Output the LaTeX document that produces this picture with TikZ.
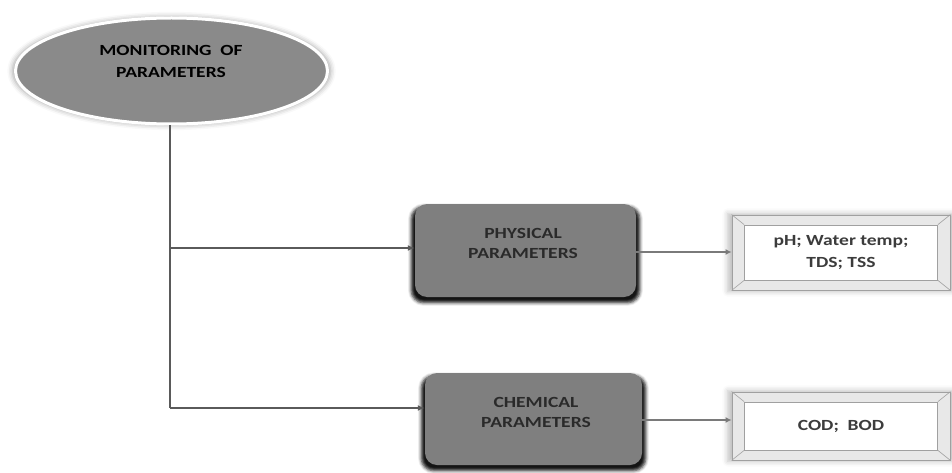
\documentclass[tikz,border=0pt]{standalone}
\usepackage{fontspec}
\setmainfont{Carlito}
\newfontfamily\widebf[FakeStretch=1.26]{Carlito Bold}
\usetikzlibrary{shapes.geometric,arrows.meta,shadows.blur}
\definecolor{ellgray}{HTML}{8A8A8A}
\definecolor{boxgray}{HTML}{7F7F7F}
\definecolor{linegray}{HTML}{5A5A5A}
\definecolor{arrgray}{HTML}{7A7A7A}
\definecolor{framegray}{HTML}{E8E8E8}
\definecolor{frameline}{HTML}{A0A0A0}
\definecolor{txtdark}{HTML}{2A2A2A}
\definecolor{txtres}{HTML}{3C3C3C}
\tikzset{
  mainell/.style={ellipse, fill=ellgray, draw=white, line width=3pt,
    minimum width=312pt, minimum height=106pt, inner sep=0pt,
    blur shadow={shadow xshift=0pt, shadow yshift=0pt, shadow scale=1.02,
      shadow blur radius=5pt, shadow opacity=35}},
  elltext/.style={align=center, text=black, inner sep=0pt,
    font=\widebf\fontsize{15.5}{22}\selectfont},
  parambox/.style={rectangle, rounded corners=12pt, fill=boxgray,
    inner sep=0pt,
    blur shadow={shadow xshift=0pt, shadow yshift=-4pt, shadow scale=1.035,
      shadow blur radius=3pt, shadow opacity=92}},
  paramtext/.style={align=center, text=txtdark, inner sep=0pt,
    font=\widebf\fontsize{15.5}{20}\selectfont},
  resouter/.style={rectangle, fill=framegray, draw=frameline, line width=0.8pt,
    inner sep=0pt, minimum width=218pt,
    blur shadow={shadow xshift=0pt, shadow yshift=0pt, shadow scale=1.04,
      shadow blur radius=5pt, shadow opacity=25}},
  resinner/.style={rectangle, fill=white, draw=frameline, line width=0.8pt,
    inner sep=0pt, minimum width=193pt, align=center, text=txtres,
    font=\widebf\fontsize{15.5}{22}\selectfont},
  conn/.style={draw=linegray, line width=1.4pt, -{Latex[length=7pt,width=6pt]}},
  resarrow/.style={draw=arrgray, line width=2.2pt, -{Latex[length=6pt,width=6pt]}},
  bevel/.style={draw=frameline, line width=0.6pt}
}
\begin{document}
\begin{tikzpicture}[x=1pt,y=-1pt]
\useasboundingbox (0,0) rectangle (952,473);

\node[mainell] (mon) at (171.5,71) {};
\node[elltext] (monlbl) at (171,61) {MONITORING\ \ OF\\PARAMETERS};

\node[parambox, minimum width=221pt, minimum height=93pt] (phys) at (525.5,250.5) {};
\node[paramtext] (physlbl) at (523,243) {PHYSICAL\\PARAMETERS};
\node[parambox, minimum width=217pt, minimum height=92pt] (chem) at (533.5,419) {};
\node[paramtext] (chemlbl) at (536,412) {CHEMICAL\\PARAMETERS};

\node[resouter, minimum height=75pt] (res1) at (841,252.5) {};
\node[resinner, minimum height=55pt] (res1in) at (res1.center) {pH; Water temp;\\TDS; TSS};
\draw[bevel] (res1.north west) -- (res1in.north west);
\draw[bevel] (res1.north east) -- (res1in.north east);
\draw[bevel] (res1.south west) -- (res1in.south west);
\draw[bevel] (res1.south east) -- (res1in.south east);

\node[resouter, minimum height=68pt] (res2) at (841,426) {};
\node[resinner, minimum height=48pt] (res2in) at (res2.center) {COD;\ \ BOD};
\draw[bevel] (res2.north west) -- (res2in.north west);
\draw[bevel] (res2.north east) -- (res2in.north east);
\draw[bevel] (res2.south west) -- (res2in.south west);
\draw[bevel] (res2.south east) -- (res2in.south east);

\coordinate (j1) at (170,248);
\coordinate (j2) at (170,408);

\draw[draw=linegray, line width=1.4pt] (mon.south -| j1) -- (j2);
\draw[conn] (j1) -- (j1 -| phys.west);
\draw[conn] (j2) -- (j2 -| chem.west);

\draw[resarrow] (phys.east |- 0,252) -- (res1.west |- 0,252);
\draw[resarrow] (chem.east |- 0,420) -- (res2.west |- 0,420);
\end{tikzpicture}
\end{document}
